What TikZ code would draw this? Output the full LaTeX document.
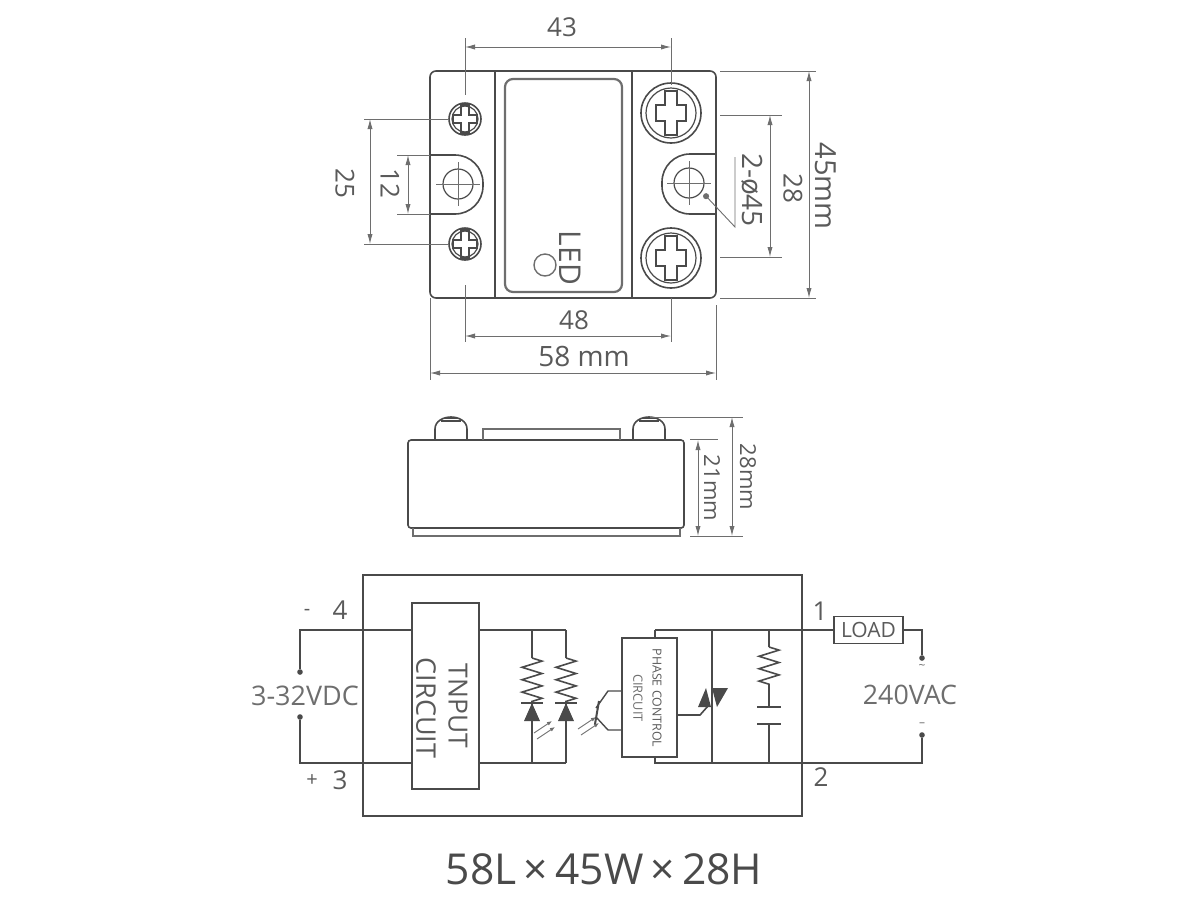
\documentclass[tikz,border=0pt]{standalone}
\usepackage{fontspec}
\setmainfont{Open Sans}
\usetikzlibrary{positioning}
\usetikzlibrary{calc}
\usetikzlibrary{arrows.meta}
\usetikzlibrary{decorations.pathmorphing}
\definecolor{inkdark}{HTML}{4A4A4A}
\definecolor{inkdim}{HTML}{6E6E6E}
\definecolor{inktext}{HTML}{5A5A5A}
\tikzset{
  outline/.style={draw=inkdark,line width=0.8pt},
  wire/.style={draw=inkdark,line width=0.8pt},
  dimline/.style={draw=inkdim,line width=0.45pt,{Latex[length=5pt,width=2.6pt]}-{Latex[length=5pt,width=2.6pt]}},
  extline/.style={draw=inkdim,line width=0.45pt},
  lab/.style={text=inktext,font=\fontsize{13}{13}\selectfont,inner sep=0pt},
  labv/.style={lab,rotate=-90},
  term/.style={circle,fill=inkdark,inner sep=0pt,minimum size=2.8pt},
  resistor/.style={draw=inkdark,line width=0.8pt,decorate,decoration={zigzag,segment length=6.2pt,amplitude=5pt}},
  bigscrew/.pic={
    \draw[outline] (0,0) circle (30);
    \draw[outline,line width=0.6pt] (0,0) circle (25);
    \draw[outline,line width=0.6pt] (-6,-22) -- (6,-22) -- (6,-8) -- (15,-8) -- (15,8) -- (6,8) -- (6,22) -- (-6,22) -- (-6,8) -- (-15,8) -- (-15,-8) -- (-6,-8) -- cycle;
  },
  smallscrew/.pic={
    \draw[outline] (0,0) circle (16);
    \draw[outline,line width=0.6pt] (0,0) circle (13);
    \draw[outline,line width=0.6pt] (-4,-14) -- (4,-14) -- (4,-4) -- (12,-4) -- (12,4) -- (4,4) -- (4,14) -- (-4,14) -- (-4,4) -- (-12,4) -- (-12,-4) -- (-4,-4) -- cycle;
  },
  sidescrew/.pic={
    \draw[outline] (-16,23) -- (-16,12) to[out=90,in=180] (0,0) to[out=0,in=90] (16,12) -- (16,23);
    \draw[outline,line width=0.6pt] (-10,4) -- (10,4);
    \draw[outline,line width=0.6pt] (-6,1) -- (6,1);
  },
  hole/.pic={
    \draw[outline,line width=0.6pt] (0,0) circle (15);
    \draw[extline] (-22,0) -- (22,0);
    \draw[extline] (0,-22) -- (0,22);
  },
  lightmark/.pic={
    \draw[extline,-{Latex[length=2.5pt,width=2pt]}] (0,0) -- (18,-12);
    \draw[extline,-{Latex[length=2.5pt,width=2pt]}] (3,6) -- (21,-6);
  },
}
\begin{document}
\begin{tikzpicture}[x=0.5pt,y=-0.5pt]
\useasboundingbox (0,0) rectangle (1200,923);

% top view
\draw[outline,rounded corners=3pt] (430,71) rectangle (716,298);
\draw[outline] (495,71) -- (495,298);
\draw[outline] (632,71) -- (632,298);
\draw[outline,draw=inkdim,line width=1.1pt,rounded corners=4pt] (505,79) rectangle (622,292);
\pic (screwa) at (465,119) {smallscrew};
\pic (screwb) at (465,244) {smallscrew};
\pic (screwc) at (671,113) {bigscrew};
\pic (screwd) at (671,258) {bigscrew};
\draw[outline,rounded corners=14pt] (430,155) -- (483,155) -- (483,214) -- (430,214);
\draw[outline,rounded corners=14pt] (716,154) -- (662,154) -- (662,214) -- (716,214);
\pic (holea) at (458,184) {hole};
\pic (holeb) at (689,183) {hole};
\draw[draw=inkdim,line width=0.7pt] (545,265) circle (11);
\node[labv,font=\fontsize{15}{15}\selectfont] (led) at (570,258) {LED};

% dimensions of the top view
\coordinate (d43a) at (465,47);
\coordinate (d43b) at (671,47);
\coordinate (d48a) at (465,336);
\coordinate (d48b) at (671,336);
\coordinate (d58a) at (430,373);
\coordinate (d58b) at (716,373);
\coordinate (d25a) at (370,119);
\coordinate (d25b) at (370,244);
\coordinate (d12a) at (408,155);
\coordinate (d12b) at (408,214);
\coordinate (d45a) at (809,71);
\coordinate (d45b) at (809,298);
\coordinate (d28a) at (770,115);
\coordinate (d28b) at (770,257);
\draw[dimline] (d43a) -- (d43b);
\draw[dimline] (d48a) -- (d48b);
\draw[dimline] (d58a) -- (d58b);
\draw[dimline] (d25a) -- (d25b);
\draw[dimline] (d12a) -- (d12b);
\draw[dimline] (d45a) -- (d45b);
\draw[dimline] (d28a) -- (d28b);
\draw[extline] ($(d43a)+(0,-9)$) -- ($(d43a)+(0,48)$);
\draw[extline] ($(d43b)+(0,-9)$) -- ($(d43b)+(0,38)$);
\draw[extline] ($(d48a)+(0,-51)$) -- ($(d48a)+(0,6)$);
\draw[extline] ($(d48b)+(0,-38)$) -- ($(d48b)+(0,6)$);
\draw[extline] ($(d58a)+(0,-75)$) -- ($(d58a)+(0,7)$);
\draw[extline] ($(d58b)+(0,-68)$) -- ($(d58b)+(0,7)$);
\draw[extline] ($(d25a)+(-6,0)$) -- ($(d25a)+(79,0)$);
\draw[extline] ($(d25b)+(-6,0)$) -- ($(d25b)+(79,0)$);
\draw[extline] ($(d12a)+(-11,0)$) -- ($(d12a)+(22,0)$);
\draw[extline] ($(d12b)+(-11,0)$) -- ($(d12b)+(22,0)$);
\draw[extline] ($(d45a)+(-89,0)$) -- ($(d45a)+(7,0)$);
\draw[extline] ($(d45b)+(-89,0)$) -- ($(d45b)+(7,0)$);
\draw[extline] ($(d28a)+(-50,0)$) -- ($(d28a)+(12,0)$);
\draw[extline] ($(d28b)+(-50,0)$) -- ($(d28b)+(12,0)$);
\coordinate (leada) at (704,194);
\coordinate (leadb) at (735,227);
\coordinate (leadc) at (735,157);
\draw[extline,{Circle[length=3pt]}-] (leada) -- (leadb) -- (leadc);
\node[lab] (t43) at (562,27) {43};
\node[lab] (t48) at (574,320) {48};
\node[lab,font=\fontsize{14}{14}\selectfont] (t58) at (584,356) {58 mm};
\node[labv] (t25) at (345,183) {25};
\node[labv] (t12) at (390,183) {12};
\node[labv,font=\fontsize{14.5}{14.5}\selectfont] (t45) at (826,186) {45mm};
\node[labv] (t28) at (793,188) {28};
\node[labv,font=\fontsize{14}{14}\selectfont] (tdia) at (752,190) {2-ø45};

% side view
\draw[outline,rounded corners=1.5pt] (408,440) rectangle (684,528);
\draw[outline,draw=inkdim] (413,528) -- (413,536) -- (680,536) -- (680,528);
\draw[outline,draw=inkdim] (483,440) -- (483,429) -- (620,429) -- (620,440);
\pic (sidea) at (451,417) {sidescrew};
\pic (sideb) at (649,417) {sidescrew};
\coordinate (d28sa) at (732,417);
\coordinate (d28sb) at (732,536);
\coordinate (d21a) at (698,440);
\coordinate (d21b) at (698,536);
\draw[dimline] (d28sa) -- (d28sb);
\draw[dimline] (d21a) -- (d21b);
\draw[extline] ($(d28sa)+(-82,0)$) -- ($(d28sa)+(11,0)$);
\draw[extline] ($(d28sb)+(-42,0)$) -- ($(d28sb)+(11,0)$);
\draw[extline] ($(d21a)+(-8,-1)$) -- ($(d21a)+(20,-1)$);
\node[labv,font=\fontsize{11}{11}\selectfont] (t28s) at (748,477) {28mm};
\node[labv,font=\fontsize{11}{11}\selectfont] (t21) at (712,488) {21mm};

% circuit
\draw[outline] (363,575) rectangle (802,816);
\node[draw=inkdark,line width=0.8pt,minimum width=33.5pt,minimum height=93pt,inner sep=0pt] (input) at (445.5,696) {};
\node[draw=inkdark,line width=0.8pt,minimum width=27.5pt,minimum height=59.5pt,inner sep=0pt] (phase) at (649.5,697.5) {};
\node[draw=inkdark,line width=0.8pt,minimum width=34.5pt,minimum height=13.5pt,inner sep=0pt,text=inktext,font=\fontsize{10.5}{10.5}\selectfont] (load) at (868.5,630) {LOAD};
\node[labv,font=\fontsize{13.2}{13.2}\selectfont] (tinput) at (458,706) {TNPUT};
\node[labv,font=\fontsize{13.5}{13.5}\selectfont] (tcircuit) at (426,708) {CIRCUIT};
\node[labv,font=\fontsize{6.2}{6.2}\selectfont] (tphase) at (657,698) {PHASE CONTROL};
\node[labv,font=\fontsize{6.4}{6.4}\selectfont,text=inkdim] (tphaseb) at (638,698) {CIRCUIT};

\node[term] (dcplus) at (300,672) {};
\node[term] (dcminus) at (300,717) {};
\node[term] (acup) at (922,658) {};
\node[term] (acdown) at (922,735) {};
\coordinate (lt) at (300,630);
\coordinate (lb) at (300,763);
\coordinate (rt) at (922,630);
\coordinate (rb) at (922,763);
\coordinate (na) at (532,630);
\coordinate (nb) at (566,630);
\coordinate (nc) at (532,763);
\coordinate (nd) at (566,763);
\coordinate (ne) at (655,630);
\coordinate (nf) at (655,763);
\coordinate (ng) at (712,630);
\coordinate (nh) at (712,763);
\coordinate (ni) at (769,630);
\coordinate (nj) at (769,763);

\draw[wire] (dcplus) -- (lt) -- (input.west |- lt);
\draw[wire] (dcminus) -- (lb) -- (input.west |- lb);
\draw[wire] (input.east |- na) -- (nb);
\draw[wire] (input.east |- nc) -- (nd);
\draw[wire] (ne) -- (load.west);
\draw[wire] (ne) -- (phase.north -| ne);
\draw[wire] (phase.south -| nf) -- (nf) -- (rb) -- (acdown);
\draw[wire] (load.east) -- (rt) -- (acup);
\draw[wire] (ng) -- (nh);

% two input branches
\coordinate (ra) at (532,658);
\coordinate (rb1) at (532,702);
\coordinate (rc) at (566,658);
\coordinate (rd) at (566,702);
\draw[wire] (na) -- (ra);
\draw[wire] (nb) -- (rc);
\draw[resistor] (ra) -- (rb1);
\draw[resistor] (rc) -- (rd);
\draw[wire] (rb1) -- (nc);
\draw[wire] (rd) -- (nd);
\draw[wire] (521,703) -- (543,703);
\draw[wire] (555,703) -- (577,703);
\fill[inkdark] (532,703) -- (540,721) -- (524,721) -- cycle;
\fill[inkdark] (566,703) -- (574,721) -- (558,721) -- cycle;
\pic (lighta) at (534,733) {lightmark};
\pic (lightb) at (578,729) {lightmark};

% transistor
\coordinate (qa) at (622,691);
\coordinate (qb) at (608,691);
\coordinate (qc) at (596,708);
\coordinate (qd) at (622,730);
\coordinate (qe) at (608,730);
\coordinate (qf) at (596,717);
\draw[wire,line width=0.7pt] (qa) -- (qb) -- (qc);
\draw[wire,line width=0.7pt] (qd) -- (qe) -- (qf);
\draw[wire,line width=1pt] (599,701) -- (595,724);

% triac
\fill[inkdark] (712,688) -- (728,688) -- (717,707) -- cycle;
\fill[inkdark] (706,688) -- (711,707) -- (698,707) -- cycle;
\coordinate (ga) at (677,715);
\coordinate (gb) at (700,715);
\coordinate (gc) at (708,706);
\draw[wire] (ga) -- (gb) -- (gc);

% snubber
\coordinate (sa) at (769,647);
\coordinate (sb) at (769,685);
\coordinate (sc) at (769,707);
\coordinate (sd) at (769,724);
\draw[wire] (ni) -- (sa);
\draw[resistor] (sa) -- (sb);
\draw[wire] (sb) -- (sc);
\draw[wire] (sd) -- (nj);
\draw[wire] ($(sc)+(-12,0)$) -- ($(sc)+(12,0)$);
\draw[wire] ($(sd)+(-12,0)$) -- ($(sd)+(12,0)$);

% circuit labels
\node[lab] (t4) at (340,610) {4};
\node[lab] (t3) at (340,780) {3};
\node[lab] (t1) at (820,611) {1};
\node[lab] (t2) at (821,777) {2};
\node[lab,font=\fontsize{10}{10}\selectfont] (tminus) at (307,612) {-};
\node[lab,font=\fontsize{10}{10}\selectfont] (tplus) at (312,781) {+};
\node[lab,font=\fontsize{13.5}{13.5}\selectfont,text=inkdim] (tdc) at (305,696) {3-32VDC};
\node[lab,font=\fontsize{13.4}{13.4}\selectfont,text=inkdim] (tac) at (910,695) {240VAC};
\node[lab,font=\fontsize{6}{6}\selectfont,text=inkdim] (ttilde) at (922,667) {\textasciitilde};
\node[lab,font=\fontsize{6}{6}\selectfont,text=inkdim] (tdash) at (922,725) {--};
\node[lab,text=inkdark,font=\fontsize{21.3}{21.3}\selectfont] (title) at (604,869) {58L\,×\,45W\,×\,28H};
\end{tikzpicture}
\end{document}
